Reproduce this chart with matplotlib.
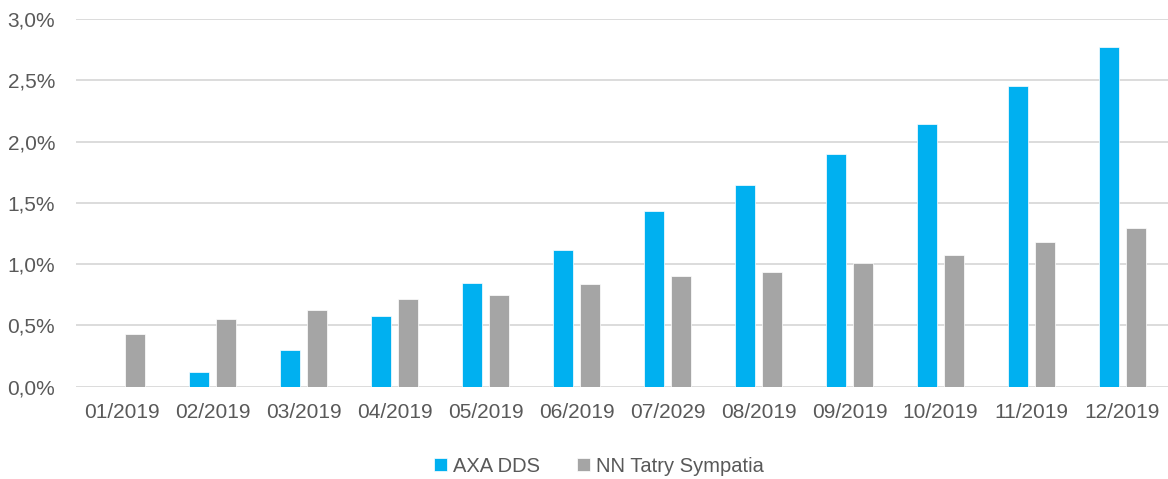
import numpy as np
import matplotlib.pyplot as plt
from matplotlib.ticker import FuncFormatter, MultipleLocator

months = ["01/2019", "02/2019", "03/2019", "04/2019", "05/2019", "06/2019",
          "07/2029", "08/2019", "09/2019", "10/2019", "11/2019", "12/2019"]
axa = [0.0, 0.117, 0.30, 0.577, 0.845, 1.115, 1.433, 1.645, 1.898, 2.143, 2.45, 2.773]
nn = [0.427, 0.55, 0.625, 0.715, 0.75, 0.837, 0.903, 0.935, 1.009, 1.074, 1.183, 1.297]

plt.rcParams['font.family'] = ['Liberation Sans Narrow', 'Liberation Sans', 'DejaVu Sans']
txt = '#595959'

fig = plt.figure(figsize=(11.68, 4.79), dpi=100)
ax = fig.add_axes([76 / 1168, 1 - 386.7 / 479, 1 - 76 / 1168, (386.7 - 19) / 479])

x = np.arange(len(months))
w = 0.22
off = 0.143
ax.bar(x - off, axa, w, color='#00B0F0', edgecolor='white', linewidth=0.5, label='AXA DDS', zorder=3)
ax.bar(x + off, nn, w, color='#A5A5A5', edgecolor='white', linewidth=0.5, label='NN Tatry Sympatia', zorder=3)

ax.set_xlim(-0.5, len(months) - 0.5)
ax.set_ylim(0, 3.0)
ax.yaxis.set_major_locator(MultipleLocator(0.5))
ax.yaxis.set_major_formatter(FuncFormatter(lambda v, p: f"{v:.1f}%".replace('.', ',')))
ax.set_xticks(x)
ax.set_xticklabels(months)
ax.grid(axis='y', color='#D9D9D9', linewidth=1.3, zorder=0)
for s in ax.spines.values():
    s.set_visible(False)
ax.tick_params(axis='both', length=0, labelsize=15, colors=txt)
ax.tick_params(axis='y', pad=15)
ax.tick_params(axis='x', pad=12)

h, l = ax.get_legend_handles_labels()
leg = fig.legend(h, l, loc='center', bbox_to_anchor=(599 / 1168, 1 - 466 / 479), ncol=2, frameon=False,
                 fontsize=14.5, handlelength=0.65, handleheight=0.65, handletextpad=0.3, columnspacing=1.8)
for t in leg.get_texts():
    t.set_color(txt)

fig.savefig('out.png')
